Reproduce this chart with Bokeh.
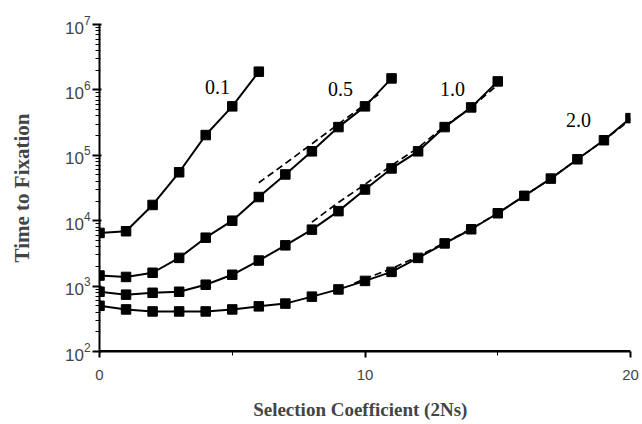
from bokeh.plotting import figure
from bokeh.models import Range1d, FixedTicker, Label, LogTicker, Span
from bokeh.embed import file_html
from bokeh.resources import INLINE

# Selection coefficient (2Ns) and time to fixation, one series per curve
x_01 = [0, 1, 2, 3, 4, 5, 6]
t_01 = [6500, 6900, 17400, 55000, 204000, 560000, 1.9e6]

x_05 = [0, 1, 2, 3, 4, 5, 6, 7, 8, 9, 10, 11]
t_05 = [1450, 1380, 1600, 2700, 5500, 10000, 23000, 51000, 115000, 270000, 560000, 1.5e6]

x_10 = [0, 1, 2, 3, 4, 5, 6, 7, 8, 9, 10, 11, 12, 13, 14, 15]
t_10 = [820, 740, 790, 820, 1050, 1490, 2460, 4200, 7300, 14000, 30000, 63000,
        115000, 270000, 540000, 1.35e6]

x_20 = list(range(21))
t_20 = [500, 440, 410, 410, 410, 440, 490, 540, 690, 890, 1200, 1650, 2700, 4500,
        7400, 13000, 24000, 44000, 87000, 170000, 370000]

# dashed approximations
dx_05 = [6, 7, 8, 9, 10, 10.5]
dt_05 = [38000, 75000, 150000, 300000, 600000, 850000]
dx_10 = [8, 9, 10, 11, 12, 13, 14, 15]
dt_10 = [9500, 19000, 36000, 70000, 130000, 280000, 540000, 1.2e6]
dx_20 = [9.6, 10, 11, 12, 13, 14, 15, 16, 17, 18, 19, 20]
dt_20 = [1100, 1300, 1850, 2850, 4600, 7500, 13000, 24000, 44000, 87000, 170000, 350000]

curve_labels = ["0.1", "0.5", "1.0", "2.0"]
label_x = [4.44, 9.08, 13.3, 18.04]
label_t = [1.1e6, 1.05e6, 1.05e6, 3.5e5]

x_ticks = [0, 10, 20]
x_minor = [5, 15]
y_min, y_max = 100, 1e7

p = figure(width=642, height=424, frame_width=531, frame_height=327,
           output_backend="svg", toolbar_location=None,
           y_axis_type="log", x_range=Range1d(0, 20), y_range=Range1d(y_min, y_max),
           min_border_left=99, min_border_right=12, min_border_top=24, min_border_bottom=73)
p.grid.visible = False
p.outline_line_color = None
p.background_fill_color = None
p.border_fill_color = "white"

# baseline along the bottom of the value range (x axis rule)
p.add_layout(Span(location=y_min, dimension="width", line_color="black", line_width=3))

for xs, ts in [(x_01, t_01), (x_05, t_05), (x_10, t_10), (x_20, t_20)]:
    p.line(xs, ts, line_color="black", line_width=2)
    p.scatter(xs, ts, marker="square", size=9.5, fill_color="black", line_color="black")

for xs, ts in [(dx_05, dt_05), (dx_10, dt_10), (dx_20, dt_20)]:
    p.line(xs, ts, line_color="black", line_width=1.7, line_dash="7 4")

for txt, lx, lt in zip(curve_labels, label_x, label_t):
    p.add_layout(Label(x=lx, y=lt, text=txt, text_font="Liberation Serif",
                       text_font_size="20px", text_align="center",
                       text_baseline="middle", text_color="black"))

xa = p.xaxis[0]
xa.ticker = FixedTicker(ticks=x_ticks, minor_ticks=x_minor)
xa.axis_line_color = "black"
xa.axis_line_width = 2
xa.major_tick_line_color = "black"
xa.minor_tick_line_color = "black"
xa.major_tick_out = 6
xa.major_tick_in = 0
xa.minor_tick_out = 4
xa.minor_tick_in = 0
xa.major_tick_line_width = 2
xa.major_label_text_font = "Liberation Sans"
xa.major_label_text_font_size = "15px"
xa.major_label_standoff = 12
xa.axis_label = "Selection  Coefficient  (2Ns)"
xa.axis_label_text_font = "Liberation Serif"
xa.axis_label_text_font_style = "bold"
xa.axis_label_text_font_size = "19px"
xa.axis_label_standoff = 16

ya = p.yaxis[0]
ya.ticker = LogTicker(num_minor_ticks=10)
ya.axis_line_color = "black"
ya.axis_line_width = 2
ya.major_tick_out = 7
ya.major_tick_in = 2
ya.minor_tick_out = 4
ya.minor_tick_in = 1
ya.major_tick_line_width = 2
ya.major_label_text_font = "Liberation Sans"
ya.major_label_text_font_size = "17px"
ya.major_label_standoff = 2
ya.axis_label = "Time to Fixation"
ya.axis_label_text_font = "Liberation Serif"
ya.axis_label_text_font_style = "bold"
ya.axis_label_text_font_size = "21px"
ya.axis_label_standoff = 28

open("out.html", "w").write(file_html(p, INLINE))
